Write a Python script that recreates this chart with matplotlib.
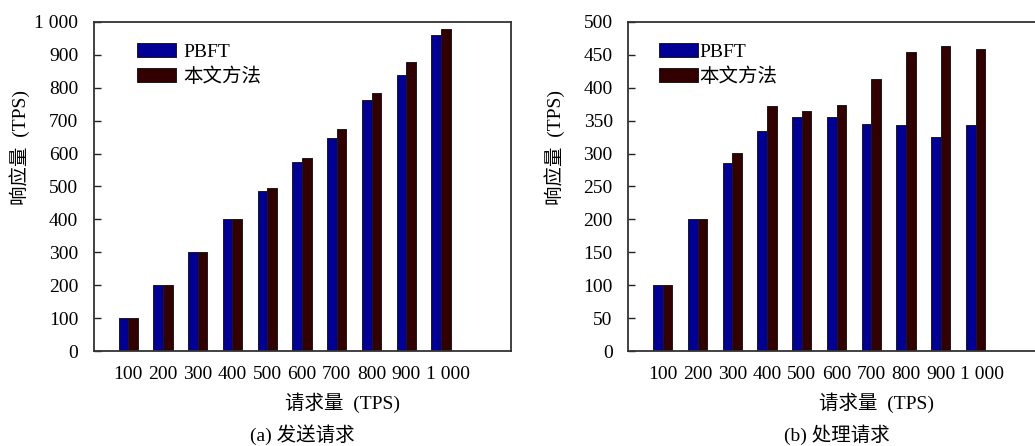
import matplotlib
matplotlib.use("Agg")
import matplotlib.pyplot as plt
import numpy as np

plt.rcParams['font.family'] = ['Liberation Serif', 'Noto Sans CJK SC']
plt.rcParams['font.size'] = 14

# Request rates (TPS)
categories = ["100", "200", "300", "400", "500", "600", "700", "800", "900", "1 000"]

# (a) sending requests: response throughput (TPS)
send_pbft = [100, 200, 300, 400, 486, 573, 647, 764, 839, 959]
send_ours = [100, 200, 300, 400, 494, 588, 676, 783, 879, 979]

# (b) processing requests: response throughput (TPS)
proc_pbft = [100, 200, 285, 335, 356, 356, 345, 343, 325, 344]
proc_ours = [100, 200, 301, 372, 364, 374, 414, 454, 463, 459]

series_names = ["PBFT", "本文方法"]
captions = ["(a) 发送请求", "(b) 处理请求"]
y_max = [1000, 500]
y_step = [100, 50]

blue = "#000096"
darkred = "#330000"

fig = plt.figure(figsize=(10.35, 4.46), dpi=100)
W, H = 1035, 446
ax_w, ax_h = 417, 329
bottom_px = 351
lefts = [93.5, 628]

datasets = [(send_pbft, send_ours), (proc_pbft, proc_ours)]
legend_x = [0.104, 0.074]
handle_pad = [0.4, 0.08]

x = np.arange(1, len(categories) + 1)
w = 0.28

# label positions: the wide "1 000" label sits a little right of its bars
label_pos = x.astype(float)
label_pos[-1] += 0.2

for i, (pbft, ours) in enumerate(datasets):
    ax = fig.add_axes([lefts[i] / W, (H - bottom_px) / H, ax_w / W, ax_h / H])
    ax.bar(x - w / 2, pbft, width=w, color=blue, edgecolor="#1a1a1a",
           linewidth=0.7, label=series_names[0])
    ax.bar(x + w / 2, ours, width=w, color=darkred, edgecolor="#1a1a1a",
           linewidth=0.7, label=series_names[1])
    ax.set_xlim(0, 12)
    ax.set_ylim(0, y_max[i])
    ax.set_xticks(label_pos)
    ax.set_xticklabels(categories)
    yt = np.arange(0, y_max[i] + 1, y_step[i])
    ax.set_yticks(yt)
    if y_max[i] >= 1000:
        ax.set_yticklabels([f"{v:,}".replace(",", " ") for v in yt])
    ax.tick_params(axis="x", length=0, pad=11)
    ax.tick_params(axis="y", direction="in", length=5, width=1, pad=11,
                   colors="#222222", labelcolor="black")
    for s in ax.spines.values():
        s.set_linewidth(1.3)
        s.set_color("#333333")

    ax.set_xlabel("请求量  (TPS)")
    ax.xaxis.label.set_va("center")
    ax.xaxis.set_label_coords(0.597, -0.158)
    ax.set_ylabel("响应量  (TPS)")
    ax.yaxis.label.set_va("center")
    ax.yaxis.set_label_coords(-0.177, 0.62)

    ax.text(0.5, -(435 - bottom_px) / ax_h, captions[i], transform=ax.transAxes,
            ha="center", va="center")

    ax.legend(loc="upper left", bbox_to_anchor=(legend_x[i], 0.935),
              frameon=False, borderpad=0, borderaxespad=0,
              handlelength=2.0, handleheight=0.72,
              handletextpad=handle_pad[i], labelspacing=0.3)

fig.savefig("out.png", dpi=100)
